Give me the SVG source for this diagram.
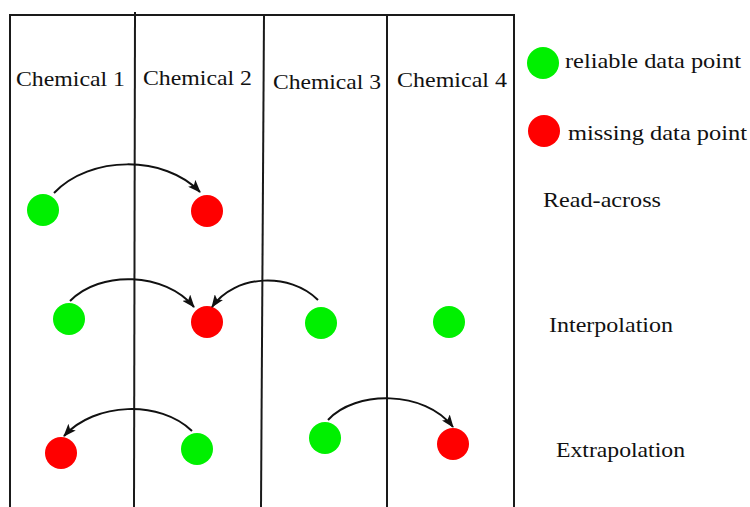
<svg xmlns="http://www.w3.org/2000/svg" width="750" height="507" viewBox="0 0 750 507">
  <style>
    .grid { stroke: #1a1a1a; stroke-width: 2; fill: none; }
    .lbl { font-family: "Liberation Serif", "Times New Roman", serif; font-size: 21.5px; fill: #111; }
    .ok { fill: #00f000; }
    .miss { fill: #ff0000; }
    .arc { stroke: #111; stroke-width: 2; fill: none; marker-end: url(#head); }
  </style>
  <defs>
    <marker id="head" viewBox="0 0 13 10" refX="12" refY="5" markerWidth="13" markerHeight="10" markerUnits="userSpaceOnUse" orient="auto">
      <path d="M0,0 L13,5 L0,10 L3,5 Z" fill="#111"/>
    </marker>
  </defs>
  <rect width="750" height="507" fill="#fff"/>

  <!-- table frame and column separators -->
  <g id="table" class="grid">
    <path d="M10,507 L10,15 L514,15 L514,507"/>
    <path d="M135,12 L134,507"/>
    <path d="M264,15 L261,507"/>
    <path d="M387,15 L387,507"/>
  </g>

  <!-- column headings -->
  <g id="headers" class="lbl">
    <text x="16" y="86" textLength="109" lengthAdjust="spacingAndGlyphs">Chemical 1</text>
    <text x="143" y="85" textLength="109" lengthAdjust="spacingAndGlyphs">Chemical 2</text>
    <text x="273" y="89" textLength="108" lengthAdjust="spacingAndGlyphs">Chemical 3</text>
    <text x="397" y="87" textLength="110" lengthAdjust="spacingAndGlyphs">Chemical 4</text>
  </g>

  <!-- legend -->
  <g id="legend-reliable">
    <circle class="ok" cx="543" cy="63" r="16"/>
    <text class="lbl" x="565" y="68" textLength="176" lengthAdjust="spacingAndGlyphs">reliable data point</text>
  </g>
  <g id="legend-missing">
    <circle class="miss" cx="544" cy="131" r="16"/>
    <text class="lbl" x="568" y="140" textLength="179" lengthAdjust="spacingAndGlyphs">missing data point</text>
  </g>

  <!-- row labels -->
  <g id="label-readacross"><text class="lbl" x="543" y="207" textLength="118" lengthAdjust="spacingAndGlyphs">Read-across</text></g>
  <g id="label-interpolation"><text class="lbl" x="549" y="332" textLength="124" lengthAdjust="spacingAndGlyphs">Interpolation</text></g>
  <g id="label-extrapolation"><text class="lbl" x="556" y="457" textLength="129" lengthAdjust="spacingAndGlyphs">Extrapolation</text></g>

  <!-- data points -->
  <g id="ra-c1"><circle class="ok" cx="43" cy="210" r="16"/></g>
  <g id="ra-c2"><circle class="miss" cx="207" cy="211" r="16"/></g>

  <g id="ip-c1"><circle class="ok" cx="69" cy="319" r="16"/></g>
  <g id="ip-c2"><circle class="miss" cx="207" cy="322" r="16"/></g>
  <g id="ip-c3"><circle class="ok" cx="321" cy="323" r="16"/></g>
  <g id="ip-c4"><circle class="ok" cx="449" cy="322" r="16"/></g>

  <g id="ep-c1"><circle class="miss" cx="61" cy="453" r="16"/></g>
  <g id="ep-c2"><circle class="ok" cx="197" cy="449" r="16"/></g>
  <g id="ep-c3"><circle class="ok" cx="325" cy="438" r="16"/></g>
  <g id="ep-c4"><circle class="miss" cx="453" cy="444" r="16"/></g>

  <!-- connectors -->
  <g id="connectors">
    <path class="arc" d="M54,193 C90,155 165,155 200,192"/>
    <path class="arc" d="M70,301 C100,270 165,272 194,307"/>
    <path class="arc" d="M318,300 C290,272 235,274 212,307"/>
    <path class="arc" d="M192,431 C160,400 95,402 64,436"/>
    <path class="arc" d="M328,420 C355,390 425,390 453,427"/>
  </g>
</svg>
